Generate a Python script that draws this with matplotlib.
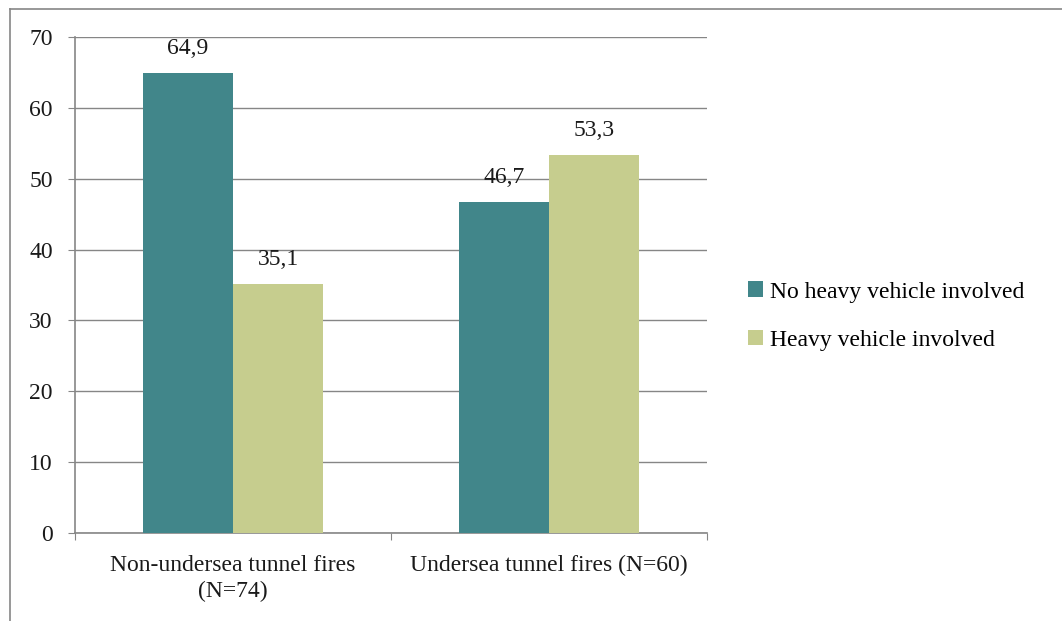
import matplotlib.pyplot as plt
from matplotlib.lines import Line2D
import numpy as np

categories = ["Non-undersea tunnel fires\n(N=74)", "Undersea tunnel fires (N=60)"]
series_names = ["No heavy vehicle involved", "Heavy vehicle involved"]
no_heavy = [64.9, 46.7]
heavy = [35.1, 53.3]
yticks = [0, 10, 20, 30, 40, 50, 60, 70]

teal = "#41868a"
olive = "#c6cd8e"
gray = "#868686"

plt.rcParams['font.family'] = ['Liberation Serif', 'DejaVu Serif']

fig = plt.figure(figsize=(10.62, 6.21), dpi=100)
ax = fig.add_axes([0.0706, 0.1417, 0.5951, 0.7987])

x = np.arange(len(categories))
w = 0.285
b1 = ax.bar(x - w/2, no_heavy, w, color=teal, label=series_names[0], zorder=3)
b2 = ax.bar(x + w/2, heavy, w, color=olive, label=series_names[1], zorder=3)

for bars, vals in ((b1, no_heavy), (b2, heavy)):
    for r, v in zip(bars, vals):
        ax.annotate(f"{v:.1f}".replace(".", ","), (r.get_x() + r.get_width()/2, v),
                    xytext=(0, 10), textcoords="offset points",
                    ha="center", va="bottom", fontsize=17, color="#1a1a1a")

ax.set_xlim(-0.5, 1.5)
ax.set_ylim(0, 70)
ax.set_yticks(yticks)
ax.set_yticklabels([str(t) for t in yticks], fontsize=17)
ax.yaxis.grid(True, color=gray, linewidth=1, zorder=0)
ax.tick_params(axis='y', length=5, color=gray, pad=11, labelcolor="#1a1a1a")

# category ticks at boundaries, labels centered
ax.set_xticks([-0.5, 0.5, 1.5])
ax.set_xticklabels([])
ax.set_xticks(x, minor=True)
ax.set_xticklabels(categories, minor=True, fontsize=17, color="#1a1a1a",
                   linespacing=1.3)
ax.tick_params(axis='x', which='major', length=5, color=gray, direction='out')
ax.tick_params(axis='x', which='minor', length=0, pad=16)

for s in ("top", "right"):
    ax.spines[s].set_visible(False)
for s in ("left", "bottom"):
    ax.spines[s].set_color(gray)
    ax.spines[s].set_linewidth(1.2)

fig.legend(handles=[b1, b2], loc="center left", bbox_to_anchor=(0.704, 0.491),
           frameon=False, fontsize=17, handlelength=0.65, handleheight=0.65,
           handletextpad=0.3, labelspacing=1.15, borderaxespad=0, borderpad=0)

# outer frame of the chart area
fig.add_artist(Line2D([0.0094, 0.0094], [0.0, 0.9855], color=gray, linewidth=1.2))
fig.add_artist(Line2D([0.0094, 1.0], [0.9855, 0.9855], color=gray, linewidth=1.2))

fig.savefig("out.png", dpi=100)
